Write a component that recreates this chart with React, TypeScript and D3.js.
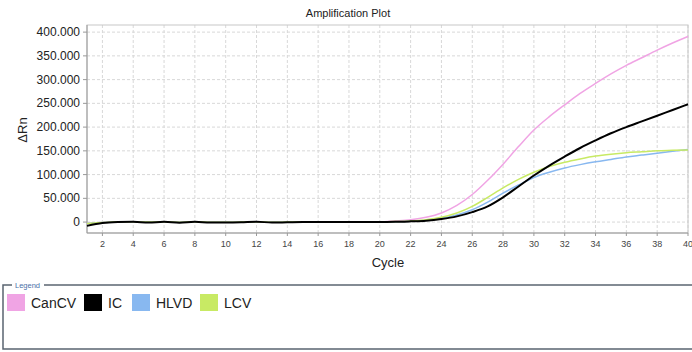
import React from "react";
import * as d3 from "d3";

const cycles = d3.range(1, 41);
const xTicks = d3.range(2, 41, 2);
const yTicks = [0, 50000, 100000, 150000, 200000, 250000, 300000, 350000, 400000];

const baseBlack = [-8000, -2000, 0, 500, -1000, 500, -1500, 500, -1000, -1000, -500, 800, -1000, -500, 0, 200, 0, 100, 200, 300];
const baseOther = [-3000, -1000, 500, 800, 0, 600, -500, 600, -300, -600, 0, 600, -500, 0, 200, 300, 200, 300, 400, 500];

const canCV = [...baseOther, 2500, 5000, 10000, 19000, 35000, 58000, 88000, 122000, 159000, 194000, 222000, 247000, 271000, 292000, 312000, 330000, 346000, 362000, 377000, 391000];
const ic = [...baseBlack, 500, 1500, 3000, 6500, 12000, 21000, 33000, 52000, 75000, 98000, 119000, 138000, 156000, 172000, 187000, 200000, 212000, 224000, 236000, 248000];
const hlvd = [...baseOther, 800, 1800, 4000, 8000, 15000, 26000, 42000, 61000, 78000, 94000, 105000, 114000, 121000, 127000, 132000, 137000, 141000, 145000, 149000, 153000];
const lcv = [...baseOther, 1000, 2200, 5000, 10000, 19000, 33000, 52000, 72000, 90000, 105000, 117000, 126000, 133000, 139000, 143000, 146000, 148000, 150000, 151000, 152000];

const seriesNames = ["CanCV", "IC", "HLVD", "LCV"];
const seriesValues = [canCV, ic, hlvd, lcv];
const seriesColors = ["#f0a4e4", "#000000", "#88b8f0", "#c8ea64"];
const drawOrder = [0, 2, 3, 1];

const W = 692;
const H = 352;
const L = 87, R = 688, T = 25, B = 233;
const FONT = "Arial, 'Liberation Sans', sans-serif";

export default function App() {
  const x = d3.scaleLinear().domain([1, 40]).range([L, R]);
  const y = d3.scaleLinear().domain([-23000, 415000]).range([B, T]);
  const line = (vals: number[]) =>
    d3.line<number>().x((_, i) => x(cycles[i])).y((v) => y(v)).curve(d3.curveMonotoneX)(vals) || "";

  const fmt = (v: number) => (v === 0 ? "0" : d3.format(",")(v).replace(",", "."));

  const legendX = [7, 84, 132, 200];

  return (
    <svg width={W} height={H} style={{ position: "fixed", left: 0, top: 0, background: "#fff" }} fontFamily={FONT}>
      <rect x={0} y={0} width={W} height={H} fill="#fff" />
      <text x={348} y={17} textAnchor="middle" fontSize={11} fill="#222">Amplification Plot</text>
      {xTicks.map((t) => (
        <line key={"gx" + t} x1={x(t)} x2={x(t)} y1={T} y2={B} stroke="#d8d8d8" strokeDasharray="3,2" strokeWidth={1} />
      ))}
      {yTicks.map((t) => (
        <line key={"gy" + t} x1={L} x2={R} y1={y(t)} y2={y(t)} stroke="#d8d8d8" strokeDasharray="3,2" strokeWidth={1} />
      ))}
      <rect x={L} y={T} width={R - L} height={B - T} fill="none" stroke="#c8c8c8" />
      <line x1={L} x2={L} y1={T} y2={B} stroke="#999" />
      <line x1={L} x2={R} y1={B} y2={B} stroke="#999" />
      {yTicks.map((t) => (
        <g key={"yt" + t}>
          <line x1={L - 4} x2={L} y1={y(t)} y2={y(t)} stroke="#999" />
          <text x={80} y={y(t) + 4} textAnchor="end" fontSize={12} fill="#222">{fmt(t)}</text>
        </g>
      ))}
      {xTicks.map((t) => (
        <g key={"xt" + t}>
          <line x1={x(t)} x2={x(t)} y1={B} y2={B + 3} stroke="#999" />
          <text x={x(t)} y={247} textAnchor="middle" fontSize={9} fill="#444">{t}</text>
        </g>
      ))}
      <text x={388} y={267} textAnchor="middle" fontSize={13} fill="#222">Cycle</text>
      <text transform="translate(27,130) rotate(-90)" textAnchor="middle" fontSize={13} fill="#222">ΔRn</text>
      {drawOrder.map((i) => (
        <path key={"s" + i} d={line(seriesValues[i])} fill="none" stroke={seriesColors[i]} strokeWidth={i === 1 ? 2 : 1.5} />
      ))}
      <path d={`M12,285 H3 V349 H692`} fill="none" stroke="#5a6470" strokeWidth={1.5} />
      <path d={`M44,285 H692`} fill="none" stroke="#5a6470" strokeWidth={1.5} />
      <text x={15} y={288} fontSize={7.5} fill="#4a70a8">Legend</text>
      {seriesNames.map((n, i) => (
        <g key={"lg" + n}>
          <rect x={legendX[i]} y={294} width={18} height={17} fill={seriesColors[i]} />
          <text x={legendX[i] + 24} y={308} fontSize={14} fill="#222">{n}</text>
        </g>
      ))}
    </svg>
  );
}
